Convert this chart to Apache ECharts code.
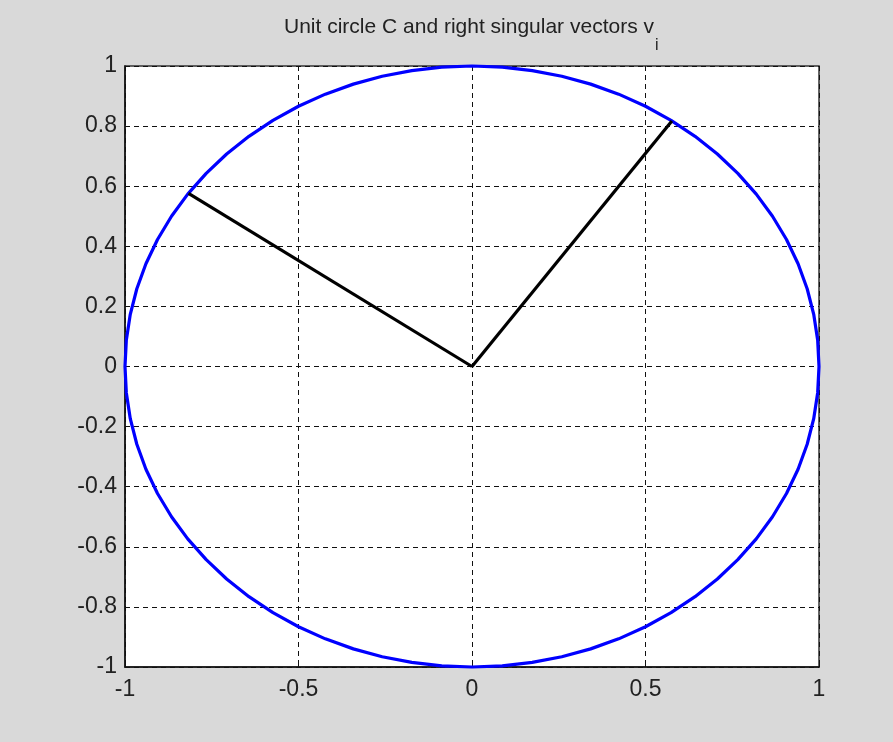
<!DOCTYPE html>
<html>
<head>
<meta charset="utf-8">
<script src="https://cdn.jsdelivr.net/npm/echarts@6/dist/echarts.min.js"></script>
<style>
html,body{margin:0;padding:0;background:#d9d9d9;}
#chart{width:893px;height:742px;}
</style>
</head>
<body>
<div id="chart"></div>
<script>
// Unit circle C, sampled every 5 degrees
var circleX = [1, 0.9962, 0.9848, 0.9659, 0.9397, 0.9063, 0.8660, 0.8192, 0.7660, 0.7071, 0.6428, 0.5736, 0.5, 0.4226, 0.3420, 0.2588, 0.1736, 0.0872, 0,
  -0.0872, -0.1736, -0.2588, -0.3420, -0.4226, -0.5, -0.5736, -0.6428, -0.7071, -0.7660, -0.8192, -0.8660, -0.9063, -0.9397, -0.9659, -0.9848, -0.9962, -1,
  -0.9962, -0.9848, -0.9659, -0.9397, -0.9063, -0.8660, -0.8192, -0.7660, -0.7071, -0.6428, -0.5736, -0.5, -0.4226, -0.3420, -0.2588, -0.1736, -0.0872, 0,
  0.0872, 0.1736, 0.2588, 0.3420, 0.4226, 0.5, 0.5736, 0.6428, 0.7071, 0.7660, 0.8192, 0.8660, 0.9063, 0.9397, 0.9659, 0.9848, 0.9962, 1];
var circleY = [0, 0.0872, 0.1736, 0.2588, 0.3420, 0.4226, 0.5, 0.5736, 0.6428, 0.7071, 0.7660, 0.8192, 0.8660, 0.9063, 0.9397, 0.9659, 0.9848, 0.9962, 1,
  0.9962, 0.9848, 0.9659, 0.9397, 0.9063, 0.8660, 0.8192, 0.7660, 0.7071, 0.6428, 0.5736, 0.5, 0.4226, 0.3420, 0.2588, 0.1736, 0.0872, 0,
  -0.0872, -0.1736, -0.2588, -0.3420, -0.4226, -0.5, -0.5736, -0.6428, -0.7071, -0.7660, -0.8192, -0.8660, -0.9063, -0.9397, -0.9659, -0.9848, -0.9962, -1,
  -0.9962, -0.9848, -0.9659, -0.9397, -0.9063, -0.8660, -0.8192, -0.7660, -0.7071, -0.6428, -0.5736, -0.5, -0.4226, -0.3420, -0.2588, -0.1736, -0.0872, 0];
// Right singular vectors v1, v2 (from origin)
var v1X = [0, 0.576];
var v1Y = [0, 0.817];
var v2X = [0, -0.817];
var v2Y = [0, 0.576];
var titleMain = 'Unit circle C and right singular vectors v';
var titleSub = 'i';

function pairs(xs, ys){ var out=[]; for(var i=0;i<xs.length;i++) out.push([xs[i], ys[i]]); return out; }

var FONT = "'Liberation Sans', Arial, Helvetica, sans-serif";
var chart = echarts.init(document.getElementById('chart'), null, {renderer:'canvas'});
chart.setOption({
  backgroundColor: '#d9d9d9',
  animation: false,
  title: {
    text: '{a|' + titleMain + '}{b|' + titleSub + '}',
    left: 284,
    top: 17,
    padding: 0,
    textStyle: {
      rich: {
        a: {fontFamily: FONT, fontSize: 21, fontWeight: 'normal', color: '#222', verticalAlign: 'top', lineHeight: 26},
        b: {fontFamily: FONT, fontSize: 16, fontWeight: 'normal', color: '#222', verticalAlign: 'top', padding: [21, 0, 0, 1]}
      }
    }
  },
  grid: {
    left: 125, top: 66, right: 74, bottom: 75,
    show: true, backgroundColor: '#ffffff', borderColor: '#333', borderWidth: 1.5,
    containLabel: false, outerBoundsMode: 'none'
  },
  xAxis: {
    type: 'value', min: -1, max: 1, interval: 0.5,
    axisLine: {show: true, onZero: false, lineStyle: {color: '#111', width: 1.5}},
    axisTick: {show: true, inside: true, length: 5, lineStyle: {color: '#111'}},
    axisLabel: {fontFamily: FONT, fontSize: 23, color: '#222', margin: 11},
    splitLine: {show: true, lineStyle: {color: '#111', width: 1, type: [5, 4]}}
  },
  yAxis: {
    type: 'value', min: -1, max: 1, interval: 0.2,
    axisLine: {show: true, onZero: false, lineStyle: {color: '#111', width: 1.5}},
    axisTick: {show: true, inside: true, length: 5, lineStyle: {color: '#111'}},
    axisLabel: {fontFamily: FONT, fontSize: 23, color: '#222', margin: 8},
    splitLine: {show: true, lineStyle: {color: '#111', width: 1, type: [5, 4]}}
  },
  series: [
    {type: 'line', data: pairs(circleX, circleY), showSymbol: false, symbol: 'none', clip: false,
     lineStyle: {color: '#0000ff', width: 3.2}, z: 3},
    {type: 'line', data: pairs(v1X, v1Y), showSymbol: false, symbol: 'none', clip: false,
     lineStyle: {color: '#000000', width: 3.2}, z: 4},
    {type: 'line', data: pairs(v2X, v2Y), showSymbol: false, symbol: 'none', clip: false,
     lineStyle: {color: '#000000', width: 3.2}, z: 4}
  ]
});
</script>
</body>
</html>
